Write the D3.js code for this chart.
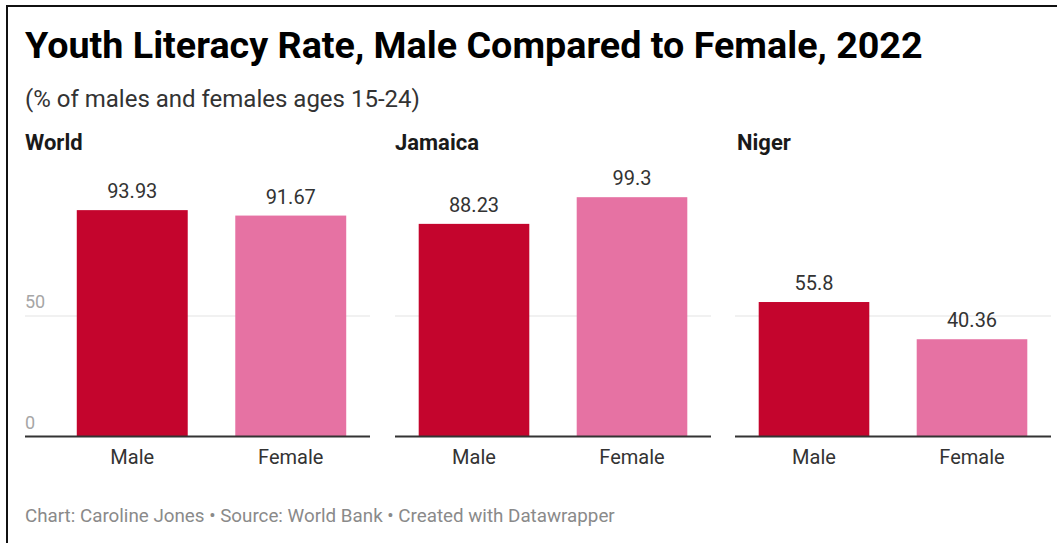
<!DOCTYPE html>
<html>
<head>
<meta charset="utf-8">
<script src="https://cdn.jsdelivr.net/npm/d3@7"></script>
<style>
  html, body { margin: 0; padding: 0; background: #fff; }
  svg { display: block; font-family: Roboto, "Noto Sans", sans-serif; }
</style>
</head>
<body>
<svg id="chart" width="1057" height="543"></svg>
<script>
// Youth literacy rate (% ages 15-24), 2022
const panels = ["World", "Jamaica", "Niger"];
const sexes = ["Male", "Female"];
const maleRates = [93.93, 88.23, 55.8];
const femaleRates = [91.67, 99.3, 40.36];
const yTicks = [0, 50];

const title = "Youth Literacy Rate, Male Compared to Female, 2022";
const subtitle = "(% of males and females ages 15-24)";
const footer = "Chart: Caroline Jones \u2022 Source: World Bank \u2022 Created with Datawrapper";

const colors = { Male: "#c4052d", Female: "#e672a3" };

const svg = d3.select("#chart");

// frame lines along the top and left edge
svg.append("line").attr("x1", 6).attr("x2", 1057).attr("y1", 6).attr("y2", 6)
  .attr("stroke", "#111").attr("stroke-width", 2);
svg.append("line").attr("x1", 7).attr("x2", 7).attr("y1", 5).attr("y2", 543)
  .attr("stroke", "#111").attr("stroke-width", 2);

svg.append("text").attr("x", 25).attr("y", 58)
  .attr("font-size", 37.7).attr("font-weight", 700).attr("fill", "#000")
  .text(title);

svg.append("text").attr("x", 25).attr("y", 107)
  .attr("font-size", 24).attr("fill", "#333")
  .text(subtitle);

svg.append("text").attr("x", 25).attr("y", 522)
  .attr("font-size", 18.8).attr("fill", "#8a8a8a")
  .text(footer);

// shared vertical scale
const y = d3.scaleLinear().domain([0, 100]).range([436.5, 195.5]);

// panel layout: plot band extents and axis line extents
const layout = [
  { left: 53, right: 370, lineLeft: 25, titleX: 25, ticks: true },
  { left: 395, right: 711, lineLeft: 395, titleX: 395, ticks: false },
  { left: 735, right: 1051, lineLeft: 735, titleX: 737, ticks: false }
];

panels.forEach((name, i) => {
  const L = layout[i];
  const values = [maleRates[i], femaleRates[i]];
  const data = sexes.map((s, j) => ({ sex: s, value: values[j] }));
  const g = svg.append("g");

  g.append("text").attr("x", L.titleX).attr("y", 150)
    .attr("font-size", 22).attr("font-weight", 700).attr("fill", "#1a1a1a")
    .text(name);

  const x = d3.scaleBand().domain(sexes).range([L.left, L.right])
    .paddingInner(0.3).paddingOuter(0.15);

  // gridline at 50
  g.selectAll("line.grid").data(yTicks.filter(t => t > 0)).join("line")
    .attr("class", "grid")
    .attr("x1", L.lineLeft).attr("x2", L.right)
    .attr("y1", d => y(d)).attr("y2", d => y(d))
    .attr("stroke", "#e3e3e3").attr("stroke-width", 1);

  if (L.ticks) {
    g.selectAll("text.tick").data(yTicks).join("text")
      .attr("class", "tick")
      .attr("x", L.lineLeft).attr("y", d => y(d) - 8)
      .attr("font-size", 18).attr("fill", "#a6a6a6")
      .text(d => d);
  }

  g.selectAll("rect.bar").data(data).join("rect")
    .attr("class", "bar")
    .attr("x", d => x(d.sex)).attr("width", x.bandwidth())
    .attr("y", d => y(d.value)).attr("height", d => y(0) - y(d.value))
    .attr("fill", d => colors[d.sex]);

  g.selectAll("text.val").data(data).join("text")
    .attr("class", "val")
    .attr("x", d => x(d.sex) + x.bandwidth() / 2)
    .attr("y", d => y(d.value) - 12)
    .attr("text-anchor", "middle")
    .attr("font-size", 20).attr("fill", "#333")
    .text(d => d.value);

  // baseline
  g.append("line")
    .attr("x1", L.lineLeft).attr("x2", L.right)
    .attr("y1", y(0)).attr("y2", y(0))
    .attr("stroke", "#333").attr("stroke-width", 2);

  g.selectAll("text.cat").data(sexes).join("text")
    .attr("class", "cat")
    .attr("x", d => x(d) + x.bandwidth() / 2)
    .attr("y", 464)
    .attr("text-anchor", "middle")
    .attr("font-size", 20).attr("fill", "#333")
    .text(d => d);
});
</script>
</body>
</html>
